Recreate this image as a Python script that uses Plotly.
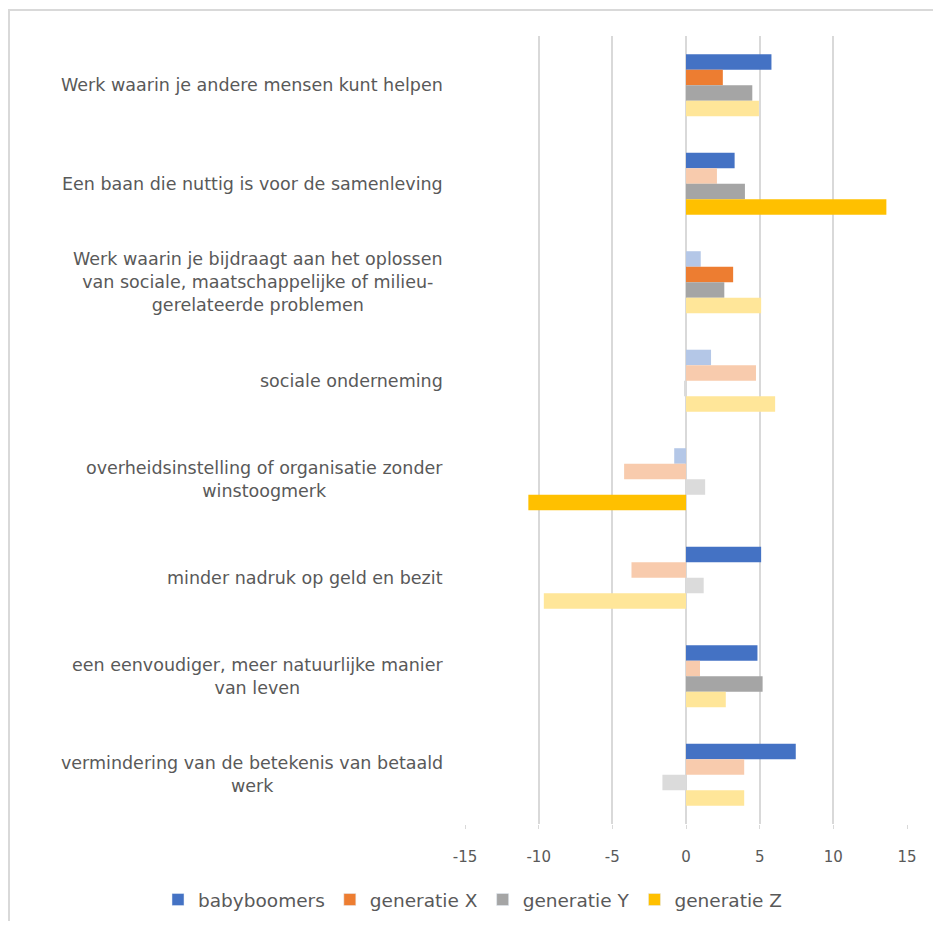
import plotly.graph_objects as go

categories = [
    "Werk waarin je andere mensen kunt helpen",
    "Een baan die nuttig is voor de samenleving",
    "Werk waarin je bijdraagt aan het oplossen<br>van sociale, maatschappelijke of milieu-<br>gerelateerde problemen",
    "sociale onderneming",
    "overheidsinstelling of organisatie zonder<br>winstoogmerk",
    "minder nadruk op geld en bezit",
    "een eenvoudiger, meer natuurlijke manier<br>van leven",
    "vermindering van de betekenis van betaald<br>werk",
]

series_names = ["babyboomers", "generatie X", "generatie Y", "generatie Z"]

babyboomers = [5.8, 3.3, 1.0, 1.7, -0.8, 5.1, 4.85, 7.45]
generatie_x = [2.5, 2.1, 3.2, 4.75, -4.2, -3.7, 0.95, 3.95]
generatie_y = [4.5, 4.0, 2.6, -0.12, 1.3, 1.2, 5.2, -1.6]
generatie_z = [4.95, 13.6, 5.1, 6.05, -10.7, -9.65, 2.7, 3.95]

# significance flags (True = strong colour, False = faded colour)
sig_babyboomers = [True, True, False, False, False, True, True, True]
sig_generatie_x = [True, False, True, False, False, False, False, False]
sig_generatie_y = [True, True, True, False, False, False, True, False]
sig_generatie_z = [False, True, False, False, True, False, False, False]

x_ticks = [-15, -10, -5, 0, 5, 10, 15]

dark_colors = ["#4472C4", "#ED7D31", "#A5A5A5", "#FFC000"]
light_colors = ["#B4C7E7", "#F8CBAD", "#DBDBDB", "#FFE699"]

values = [babyboomers, generatie_x, generatie_y, generatie_z]
sigs = [sig_babyboomers, sig_generatie_x, sig_generatie_y, sig_generatie_z]

TXT = "#595959"
FONT = "DejaVu Sans"

fig = go.Figure()
for i, name in enumerate(series_names):
    cols = [dark_colors[i] if s else light_colors[i] for s in sigs[i]]
    fig.add_trace(go.Bar(
        y=categories, x=values[i], name=name, orientation="h",
        marker=dict(color=cols, line=dict(width=0)), showlegend=False,
        legendgroup=name,
    ))
# legend entries with the strong colours, on an overlaid axis so they
# do not take a slot in the bar groups
for i, name in enumerate(series_names):
    fig.add_trace(go.Bar(y=[categories[0]], x=[None], name=name, orientation="h",
                         marker=dict(color=dark_colors[i]), showlegend=True,
                         legendgroup=name, xaxis="x", yaxis="y2"))

# page offset (browser body margin) = 8 px
OFF = 8
W, H = 941 - 2 * OFF, 929 - 2 * OFF
L, R, T, B = 465, 907, 36, 824   # plot area in page pixels
pw, ph = R - L, B - T

def px_x(p):
    return (p - L) / pw

def px_y(p):
    return (B - p) / ph

annotations = []
for c in categories:
    annotations.append(dict(
        xref="paper", yref="y", x=px_x(445), y=c, text=c,
        xanchor="right", yanchor="middle", align="center", showarrow=False,
        font=dict(family=FONT, size=17.5, color=TXT),
    ))

shapes = [
    dict(type="line", xref="paper", yref="paper", x0=px_x(OFF), x1=px_x(941 - OFF),
         y0=px_y(10), y1=px_y(10), line=dict(color="#D9D9D9", width=2)),
    dict(type="line", xref="paper", yref="paper", x0=px_x(9), x1=px_x(9),
         y0=px_y(10), y1=px_y(929 - OFF), line=dict(color="#D9D9D9", width=2)),
]

fig.update_layout(
    width=W, height=H, autosize=False,
    margin=dict(l=L - OFF, r=W - (R - OFF), t=T - OFF, b=H - (B - OFF), pad=0,
                autoexpand=False),
    paper_bgcolor="white", plot_bgcolor="white",
    barmode="group", bargap=0.37, bargroupgap=0,
    font=dict(family=FONT, color=TXT),
    showlegend=True,
    legend=dict(orientation="h", x=px_x(158), y=px_y(900), xanchor="left",
                yanchor="middle", font=dict(family=FONT, size=18.5, color=TXT),
                itemwidth=30, traceorder="normal", bgcolor="rgba(0,0,0,0)"),
    annotations=annotations,
    shapes=shapes,
    xaxis=dict(range=[-15, 15], tickvals=x_ticks, ticktext=[str(v) for v in x_ticks],
               showgrid=True, gridcolor="#D9D9D9", gridwidth=1.5,
               zeroline=True, zerolinecolor="#D9D9D9", zerolinewidth=1.5,
               showline=False, ticks="outside", ticklen=4, tickcolor="#D9D9D9",
               ticklabelstandoff=15,
               tickfont=dict(family=FONT, size=15, color=TXT), fixedrange=True),
    yaxis=dict(autorange="reversed", showticklabels=False, showgrid=False,
               zeroline=False, showline=False, ticks="", type="category",
               categoryorder="array", categoryarray=categories),
    yaxis2=dict(overlaying="y", visible=False, autorange="reversed",
                type="category", categoryorder="array", categoryarray=categories),
)

fig.write_html("out.html")
